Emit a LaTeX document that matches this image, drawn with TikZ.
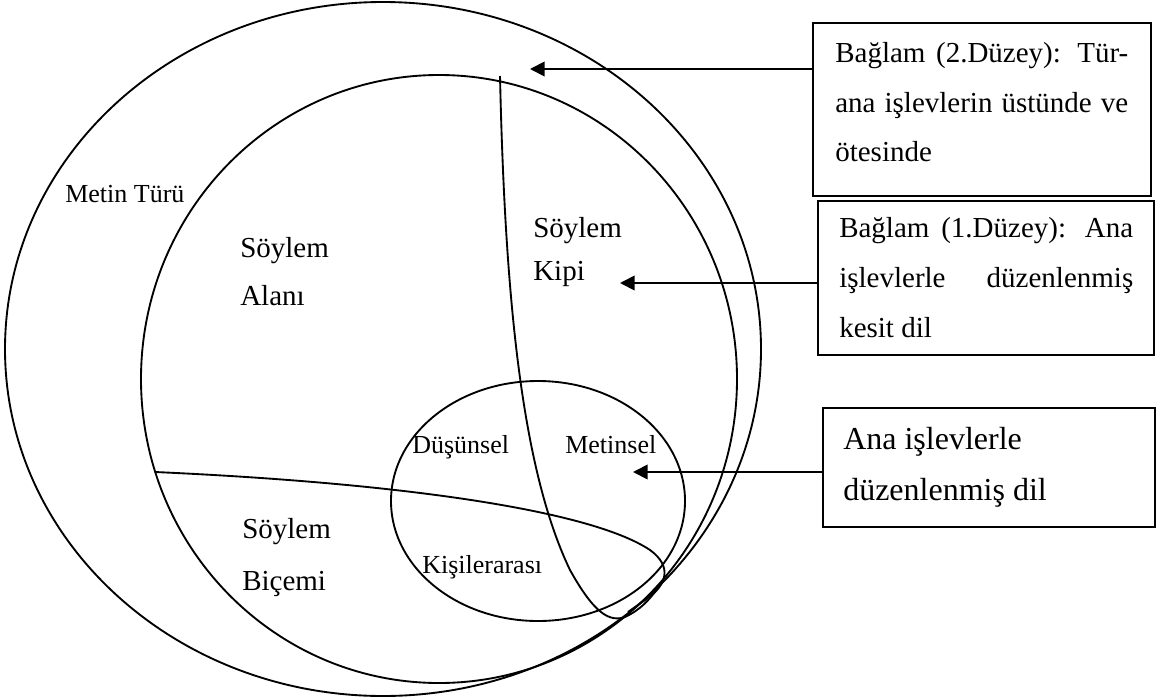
\documentclass[tikz,border=0pt]{standalone}
\usepackage{fontspec}
\setmainfont{Liberation Serif}
\usetikzlibrary{arrows.meta}
\begin{document}
\begin{tikzpicture}[x=0.75pt,y=-0.75pt,
  curve/.style={line width=1.4pt},
  boxst/.style={draw,line width=1.4pt,inner sep=0pt},
  arr/.style={line width=1.4pt,-{Triangle[length=11pt,width=11pt]}},
  lbl/.style={anchor=base west,inner sep=0pt,font=\fontsize{19.5pt}{23pt}\selectfont},
  big/.style={anchor=base west,inner sep=0pt,align=left},
  txt/.style={anchor=base west,inner sep=0pt,align=justify}
]
\useasboundingbox (0,0) rectangle (1162,699);
% regions
\draw[curve] (383,349) ellipse [x radius=378, y radius=347];
\draw[curve] (439,379) ellipse [x radius=298, y radius=304];
\draw[curve] (538,501) ellipse [x radius=147, y radius=120];
% Söylem Kipi boundary
\draw[curve] (500,76) .. controls (505,300) and (522,470) .. (570,570)
  .. controls (595,615) and (610,622) .. (625,617)
  .. controls (640,610) and (650,600) .. (662,582);
% Söylem Biçemi boundary
\draw[curve] (155,472) .. controls (400,483) and (590,510) .. (650,550)
  .. controls (672,566) and (668,585) .. (645,600) -- (628,612);
% labels
\node[lbl] (mt) at (65,202) {Metin Türü};
\node[big,font=\fontsize{21.75pt}{36pt}\selectfont] (sa) at (240,305) {Söylem\\Alanı};
\node[big,font=\fontsize{21.75pt}{32pt}\selectfont] (sk) at (533,280) {Söylem\\Kipi};
\node[big,font=\fontsize{21.75pt}{39pt}\selectfont] (sb) at (242,590) {Söylem\\Biçemi};
\node[lbl] (ds) at (412,453) {Düşünsel};
\node[lbl] (ms) at (565,453) {Metinsel};
\node[lbl] (ka) at (422,573) {Kişilerarası};
% boxes
\node[boxst,minimum width=253.5pt,minimum height=129.75pt] (box1) at (982,109.5) {};
\node[boxst,minimum width=252pt,minimum height=115.5pt] (box2) at (986,278) {};
\node[boxst,minimum width=249pt,minimum height=89.25pt] (box3) at (989,467.5) {};
\node[txt,text width=219.75pt,font=\fontsize{21.75pt}{37pt}\selectfont] (t1) at (835,63)
  {Bağlam (2.Düzey): Tür-\linebreak ana işlevlerin üstünde ve\linebreak ötesinde};
\node[txt,text width=220.5pt,font=\fontsize{21.75pt}{37.5pt}\selectfont] (t2) at (839,237)
  {Bağlam (1.Düzey): Ana\linebreak işlevlerle düzenlenmiş\linebreak kesit dil};
\node[big,font=\fontsize{24pt}{38.25pt}\selectfont] (t3) at (843,500) {Ana işlevlerle\\düzenlenmiş dil};
% arrows
\coordinate (a1) at (530,69);
\coordinate (a2) at (620,283);
\coordinate (a3) at (633,472);
\draw[arr] (box1.west |- a1) -- (a1);
\draw[arr] (box2.west |- a2) -- (a2);
\draw[arr] (box3.west |- a3) -- (a3);
\end{tikzpicture}
\end{document}
